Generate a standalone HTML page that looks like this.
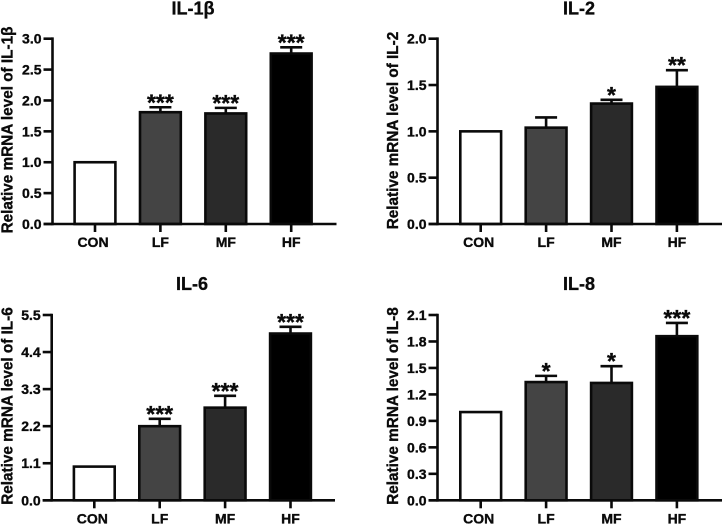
<!DOCTYPE html>
<html lang="en">
<head>
<meta charset="utf-8">
<title>Relative mRNA levels of IL-1β, IL-2, IL-6 and IL-8</title>
<style>
html,body{margin:0;padding:0;background:#fff;width:722px;height:524px;overflow:hidden}
svg{display:block;filter:blur(0.3px)}
text{font-family:"Liberation Sans",sans-serif;font-weight:700;fill:#0a0a0a;stroke:#0a0a0a;stroke-width:0.35px}
</style>
</head>
<body>
<svg id="figure" width="722" height="524" viewBox="0 0 722 524" xmlns="http://www.w3.org/2000/svg"></svg>
<script>
const categories = ["CON", "LF", "MF", "HF"];
const barFills = ["#ffffff", "#444444", "#2a2a2a", "#000000"];

const il1bValues = [1.0, 1.81, 1.79, 2.76];
const il1bErrors = [0, 0.08, 0.09, 0.10];
const il1bStars = ["", "***", "***", "***"];
const il1bTicks = ["0.0", "0.5", "1.0", "1.5", "2.0", "2.5", "3.0"];

const il2Values = [1.0, 1.04, 1.30, 1.48];
const il2Errors = [0, 0.11, 0.04, 0.18];
const il2Stars = ["", "", "*", "**"];
const il2Ticks = ["0.0", "0.5", "1.0", "1.5", "2.0"];

const il6Values = [1.0, 2.2, 2.75, 4.95];
const il6Errors = [0, 0.22, 0.35, 0.2];
const il6Stars = ["", "***", "***", "***"];
const il6Ticks = ["0.0", "1.1", "2.2", "3.3", "4.4", "5.5"];

const il8Values = [1.0, 1.34, 1.33, 1.86];
const il8Errors = [0, 0.07, 0.19, 0.15];
const il8Stars = ["", "*", "*", "***"];
const il8Ticks = ["0.0", "0.3", "0.6", "0.9", "1.2", "1.5", "1.8", "2.1"];

const panelIl1b = {key: "il-1b", title: "IL-1β", ylabel: "Relative mRNA level of IL-1β", values: il1bValues, errors: il1bErrors, stars: il1bStars, ticks: il1bTicks,
  axisX: 52.5, axisEnd: 336.5, y0: 224, yTop: 38.7, firstX: 95, stepX: 65.4, titleX: 193, titleY: 14.5, labelX: 12.5, labelY: 130};
const panelIl2 = {key: "il-2", title: "IL-2", ylabel: "Relative mRNA level of IL-2", values: il2Values, errors: il2Errors, stars: il2Stars, ticks: il2Ticks,
  axisX: 437.5, axisEnd: 722, y0: 224, yTop: 38.7, firstX: 480.7, stepX: 65.4, titleX: 579, titleY: 14.5, labelX: 398, labelY: 130.5};
const panelIl6 = {key: "il-6", title: "IL-6", ylabel: "Relative mRNA level of IL-6", values: il6Values, errors: il6Errors, stars: il6Stars, ticks: il6Ticks,
  axisX: 51.7, axisEnd: 335, y0: 500.3, yTop: 315, firstX: 94.3, stepX: 65.4, titleX: 192, titleY: 290, labelX: 12.5, labelY: 406};
const panelIl8 = {key: "il-8", title: "IL-8", ylabel: "Relative mRNA level of IL-8", values: il8Values, errors: il8Errors, stars: il8Stars, ticks: il8Ticks,
  axisX: 437.5, axisEnd: 722, y0: 500.3, yTop: 315, firstX: 480.7, stepX: 65.4, titleX: 579, titleY: 290, labelX: 398, labelY: 406};

const NS = "http://www.w3.org/2000/svg";
const INK = "#0a0a0a";
const LINE = 2.6;
const svgRoot = document.getElementById("figure");

function make(parent, tag, attrs, content) {
  const node = document.createElementNS(NS, tag);
  for (const k in attrs) node.setAttribute(k, attrs[k]);
  if (content !== undefined) node.textContent = content;
  parent.appendChild(node);
  return node;
}

function drawPanel(p) {
  const yMax = parseFloat(p.ticks[p.ticks.length - 1]);
  const yScale = v => p.y0 - (v / yMax) * (p.y0 - p.yTop);
  const xScale = i => p.firstX + i * p.stepX;

  const g = make(svgRoot, "g", {});
  
  

  const title = make(g, "text", {x: p.titleX, y: p.titleY, "text-anchor": "middle", "font-size": 18}, p.title);
  
  

  const yTitle = make(g, "text", {x: 0, y: 0, "text-anchor": "middle", "font-size": 15.3,
    transform: "translate(" + p.labelX + " " + p.labelY + ") rotate(-90)"}, p.ylabel);
  
  

  p.values.forEach((v, i) => {
    const cx = xScale(i);
    const top = yScale(v);
    if (p.errors[i] > 0) {
      const errTop = yScale(v + p.errors[i]);
      const stem = make(g, "line", {x1: cx, x2: cx, y1: top, y2: errTop, stroke: INK, "stroke-width": LINE});
      
      
      const cap = make(g, "line", {x1: cx - 11, x2: cx + 11, y1: errTop, y2: errTop, stroke: INK, "stroke-width": LINE});
      
      
      if (p.stars[i]) {
        const star = make(g, "text", {x: cx, y: errTop + 3, "text-anchor": "middle", "font-size": 23}, p.stars[i]);
        
        
      }
    }
    const bar = make(g, "rect", {x: cx - 20.4, y: top, width: 40.8, height: p.y0 - top, fill: barFills[i], stroke: INK, "stroke-width": LINE});
    
    

    const xt = make(g, "line", {x1: cx, x2: cx, y1: p.y0, y2: p.y0 + 8, stroke: INK, "stroke-width": LINE});
    
    

    const xl = make(g, "text", {x: cx - (i === 0 ? 2 : 0), y: p.y0 + 23, "text-anchor": "middle", "font-size": 14}, categories[i]);
    
    
  });

  p.ticks.forEach(t => {
    const y = yScale(parseFloat(t));
    const yt = make(g, "line", {x1: p.axisX - 9, x2: p.axisX, y1: y, y2: y, stroke: INK, "stroke-width": LINE});
    
    
    const yl = make(g, "text", {x: p.axisX - 11, y: y + 5, "text-anchor": "end", "font-size": 14}, t);
    
    
  });

  const yAxis = make(g, "line", {x1: p.axisX, x2: p.axisX, y1: p.yTop - 1.3, y2: p.y0 + 1.3, stroke: INK, "stroke-width": LINE});
  
  

  const xAxis = make(g, "line", {x1: p.axisX - 9, x2: p.axisEnd, y1: p.y0, y2: p.y0, stroke: INK, "stroke-width": LINE});
  
  
}

drawPanel(panelIl1b);
drawPanel(panelIl2);
drawPanel(panelIl6);
drawPanel(panelIl8);
</script>
</body>
</html>
